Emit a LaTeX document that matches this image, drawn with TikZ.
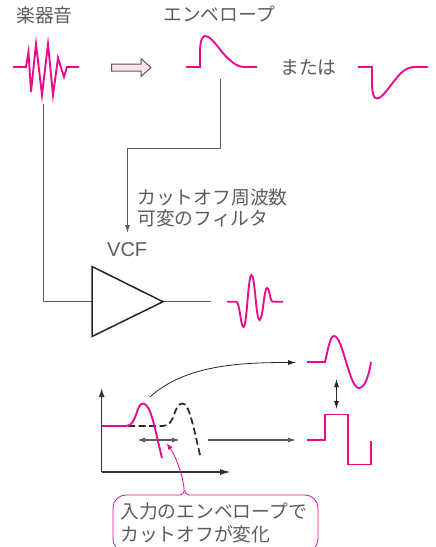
\documentclass[tikz,border=0pt]{standalone}
\usepackage{fontspec}
\setmainfont{Liberation Sans}
\newfontfamily\jpfont{Noto Sans CJK JP}
\usetikzlibrary{arrows.meta}
\definecolor{pinkline}{HTML}{EA0A8C}
\definecolor{pinkfill}{HTML}{FCE4EF}
\definecolor{inkgray}{HTML}{5C5C5C}
\tikzset{
  x=1pt,y=-1pt,
  label/.style={inner sep=0pt,anchor=west,text=inkgray,font=\jpfont\fontsize{18.8}{20}\selectfont},
  latin/.style={inner sep=0pt,anchor=west,text=inkgray,font=\fontsize{20}{22}\selectfont},
  wave/.style={draw=pinkline,line width=1.9pt,line join=miter},
  wire/.style={draw=inkgray,line width=1pt},
  tip/.style={-{Latex[length=8pt,width=5pt]}},
  dbltip/.style={{Latex[length=8pt,width=5pt]}-{Latex[length=8pt,width=5pt]}},
}
\begin{document}
\begin{tikzpicture}
\useasboundingbox (0,0) rectangle (436,547);
% labels
\node[label] (gakki) at (16,15) {楽器音};
\node[label] (env) at (163,14) {エンベロープ};
\node[label] (mata) at (280,67) {または};
\node[label] (cut1) at (137,197) {カットオフ周波数};
\node[label] (cut2) at (137,218) {可変のフィルタ};
\node[latin] (vcf) at (107,250) {VCF};
% waves
\draw[wave] (13,67) -- (26,67) -- (28.5,52) -- (31,92) -- (36,44) -- (42,95) -- (48,44) -- (53,95) -- (58,58) -- (64,77) -- (67,67) -- (79,67);
\draw[wave] (186,67) -- (200,67) -- (200,50) .. controls (200.5,39) and (203,36) .. (205,36) .. controls (213,36) and (221,54) .. (231,61) .. controls (236,65.5) and (240,67) .. (245,67) -- (257,67);
\draw[wave] (358,67) -- (372,67) -- (372,85) .. controls (372.5,95) and (374,98.5) .. (377,98.5) .. controls (383,98.5) and (392,82) .. (401,73) .. controls (406,68.5) and (410,67) .. (415,67) -- (428,67);
\draw[wave] (227,301.7) -- (236,301.7) .. controls (240,301.7) and (240.5,327) .. (243.5,327) .. controls (247,327) and (248,275) .. (251.5,275) .. controls (255,275) and (256,320) .. (259.5,320) .. controls (263,320) and (264,288) .. (267,288) .. controls (270,288) and (269.5,301.7) .. (273,301.7) -- (283,301.7);
% block arrow
\draw[draw=inkgray,fill=pinkfill,line width=1pt,line join=miter] (111.5,64) -- (141,64) -- (141,58.5) -- (151,67.5) -- (141,76.5) -- (141,71) -- (111.5,71) -- cycle;
% amplifier
\coordinate (ampin) at (92,301.7);
\coordinate (ampout) at (163,301.7);
\coordinate (ampend) at (211,301.7);
\coordinate (srcstart) at (43.5,104);
\coordinate (envstart) at (220,78.5);
\coordinate (envend) at (127.5,233);
\draw[wire] (srcstart) |- (ampin);
\draw[wire] (ampout) -- (ampend);
\draw[wire,tip] (envstart) -- (220,148.5) -- (127.5,148.5) -- (envend);
\draw[draw=black!85,line width=1.5pt,line join=miter] (92,266.5) -- (ampout) -- (92,336.5) -- cycle;
% graph
\coordinate (origin) at (101.7,472);
\draw[line width=1.4pt,draw=black!80,-{Latex[length=9pt,width=6pt]}] (origin) -- (101.7,388);
\draw[line width=1.4pt,draw=black!80,-{Latex[length=11pt,width=6pt]}] (origin) -- (231,472);
\draw[line width=1.7pt,dash pattern=on 7pt off 3.5pt,draw=black!85] (128,426) -- (163,426) .. controls (176,426) and (173,403.5) .. (182.5,403.5) .. controls (189,403.5) and (193,425) .. (200.5,457);
\draw[wave] (101.7,426) -- (126,426) .. controls (137,426) and (136,403.5) .. (143,403.5) .. controls (151,403.5) and (155,430) .. (162,458);
% filter outputs
\coordinate (c1a) at (150,397);
\coordinate (c1b) at (296,362.5);
\coordinate (c2a) at (208,440);
\coordinate (c2b) at (296,440);
\draw[draw=black!85,line width=.8pt,tip] (c1a) .. controls (185,365) and (240,362.5) .. (c1b);
\draw[draw=inkgray,line width=1.3pt,tip] (c2a) -- (c2b);
\draw[draw=inkgray,line width=1.3pt,dbltip] (137,440) -- (180,440);
\draw[draw=black!85,line width=.8pt,dbltip] (336.5,379) -- (336.5,409);
\draw[wave] (307,362) -- (325,362) .. controls (328,350) and (330,336) .. (334,336) .. controls (343,336) and (349,388) .. (359,388) .. controls (365,388) and (369,375) .. (371,362);
\draw[wave] (307,440) -- (325,440) -- (325,414.5) -- (348,414.5) -- (348,464.5) -- (371,464.5) -- (371,441);
% callout
\begin{scope}
\clip (0,0) rectangle (436,547);
\draw[draw=pinkline,line width=.8pt,rounded corners=13pt] (181,495) -- (113,495) -- (113,552) -- (318,552) -- (318,495) -- (189,495);
\end{scope}
\coordinate (cotip) at (166.5,443);
\draw[draw=pinkline,line width=.8pt,-{Latex[length=7pt,width=5pt]}] (181,495) .. controls (183.5,494) and (184.5,492) .. (184,488) .. controls (182,472) and (175,455) .. (cotip);
\draw[draw=pinkline,line width=.8pt] (184.5,490) .. controls (185,493) and (186,494.5) .. (189,495);
\node[label] (co1) at (120,511) {入力のエンベロープで};
\node[label] (co2) at (120,534) {カットオフが変化};
\end{tikzpicture}
\end{document}
